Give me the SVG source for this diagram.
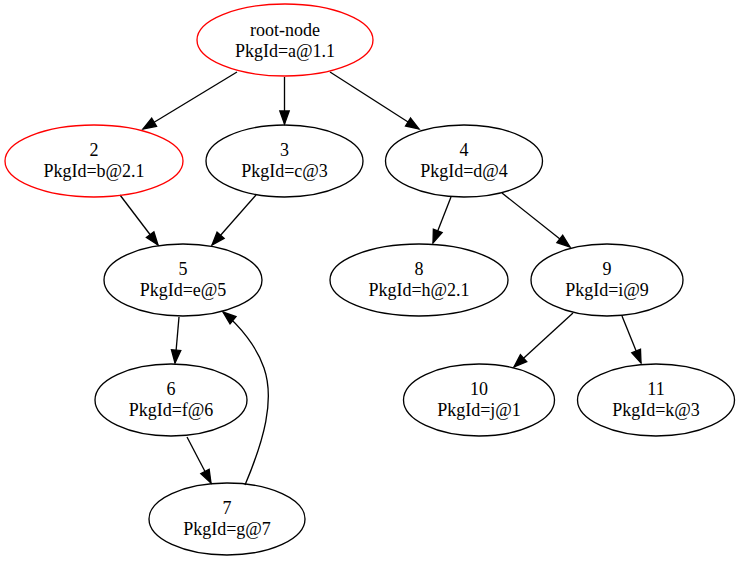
<svg xmlns="http://www.w3.org/2000/svg" width="740" height="561" viewBox="0 0 740 561">
<style>
  .node ellipse { fill: none; stroke: #000; stroke-width: 1.33; }
  .node.red ellipse { stroke: #ff0000; }
  .node text { font-family: "Liberation Serif", "Times New Roman", serif; font-size: 18px; fill: #000; text-anchor: middle; }
  .edges path, .edges line { fill: none; stroke: #000; stroke-width: 1.33; marker-end: url(#arrow); }
</style>
<defs>
  <marker id="arrow" markerUnits="userSpaceOnUse" markerWidth="16" markerHeight="12" refX="13" refY="5" orient="auto" overflow="visible">
    <path d="M0,0.3 L13,5 L0,9.7 z" fill="#000" stroke="#000" stroke-width="1.33"/>
  </marker>
</defs>
<rect width="740" height="561" fill="#fff"/>
<g class="edges" id="edges">
  <line x1="237" y1="72" x2="143" y2="129"/>
  <line x1="284.5" y1="77" x2="284.5" y2="124"/>
  <line x1="330" y1="72" x2="419" y2="129"/>
  <line x1="451" y1="197" x2="433" y2="243"/>
  <line x1="502" y1="193" x2="570" y2="247"/>
  <line x1="573" y1="313" x2="514" y2="367"/>
  <line x1="622" y1="316" x2="641" y2="363"/>
  <line x1="120" y1="195" x2="158" y2="245"/>
  <line x1="256" y1="195" x2="212" y2="245"/>
  <line x1="179" y1="317" x2="175" y2="363"/>
  <line x1="187" y1="437" x2="211" y2="483"/>
  <path d="M245,485 C264,440 275,400 264,368 C257,347 240,326 223,312"/>
</g>
<g class="node red" id="node-root"><ellipse cx="285" cy="40" rx="88" ry="36"/><text x="285" y="36">root-node</text><text x="285" y="57">PkgId=a@1.1</text></g>
<g class="node red" id="node-2"><ellipse cx="94" cy="161" rx="89" ry="36"/><text x="94" y="156">2</text><text x="94" y="177">PkgId=b@2.1</text></g>
<g class="node" id="node-3"><ellipse cx="284.5" cy="161" rx="78.5" ry="36"/><text x="284.5" y="156">3</text><text x="284.5" y="177">PkgId=c@3</text></g>
<g class="node" id="node-4"><ellipse cx="464" cy="161" rx="78.5" ry="36"/><text x="464" y="156">4</text><text x="464" y="177">PkgId=d@4</text></g>
<g class="node" id="node-5"><ellipse cx="183" cy="280" rx="79" ry="36"/><text x="183" y="275">5</text><text x="183" y="296">PkgId=e@5</text></g>
<g class="node" id="node-8"><ellipse cx="419" cy="280" rx="89" ry="36"/><text x="419" y="275">8</text><text x="419" y="296">PkgId=h@2.1</text></g>
<g class="node" id="node-9"><ellipse cx="607" cy="280" rx="76" ry="36"/><text x="607" y="275">9</text><text x="607" y="296">PkgId=i@9</text></g>
<g class="node" id="node-6"><ellipse cx="171" cy="400" rx="76" ry="36"/><text x="171" y="395">6</text><text x="171" y="416">PkgId=f@6</text></g>
<g class="node" id="node-10"><ellipse cx="479" cy="400" rx="75.5" ry="36"/><text x="479" y="395">10</text><text x="479" y="416">PkgId=j@1</text></g>
<g class="node" id="node-11"><ellipse cx="656" cy="400" rx="78.5" ry="36"/><text x="656" y="395">11</text><text x="656" y="416">PkgId=k@3</text></g>
<g class="node" id="node-7"><ellipse cx="227" cy="519" rx="78" ry="36"/><text x="227" y="514">7</text><text x="227" y="535">PkgId=g@7</text></g>
</svg>
